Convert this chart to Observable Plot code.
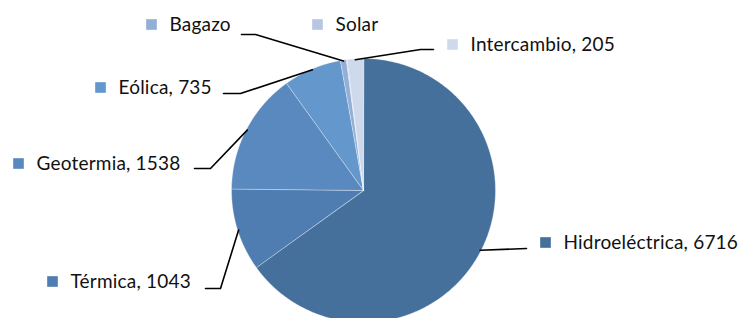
<!DOCTYPE html>
<html>
<head>
<meta charset="utf-8">
<script src="https://cdn.jsdelivr.net/npm/d3@7"></script>
<script src="https://cdn.jsdelivr.net/npm/@observablehq/plot@0.6"></script>
<style>
  html, body { margin: 0; padding: 0; background: #fff; }
  #chart { width: 738px; height: 318px; overflow: hidden; }
  #chart text { letter-spacing: 0.2px; }
</style>
</head>
<body>
<div id="chart"></div>
<script>
// ---- data ----
const categories = ["Hidroeléctrica", "Térmica", "Geotermia", "Eólica", "Bagazo", "Solar", "Intercambio"];
const values = [6716, 1043, 1538, 735, 75, 10, 205];
const labelTexts = ["Hidroeléctrica, 6716", "Térmica, 1043", "Geotermia, 1538", "Eólica, 735", "Bagazo", "Solar", "Intercambio, 205"];
const colors = ["#44709b", "#4f7db1", "#5a89bf", "#6498cd", "#93afd6", "#b6c6e3", "#cfd9ec"];

// ---- layout (pixels) ----
const W = 738, H = 318;
const cx = 363, cy = 190, R = 132;
const labelPos = [[563, 242], [70, 281], [36, 163], [118, 87], [169, 24], [335, 24], [470, 44]];
const leaderBends = [
  [[526, 248]],
  [[220, 288], [205, 288]],
  [[210, 168], [194, 168]],
  [[240, 93], [223, 93]],
  [[255, 34], [241, 34]],
  null,
  [[420, 49], [433, 49]]
];

const total = d3.sum(values);
const pt = (a, r) => [cx + r * Math.sin(a), cy - r * Math.cos(a)];

// slice polygons
const slices = [];
let acc = 0;
const mids = [];
values.forEach((v, i) => {
  const a0 = acc / total * 2 * Math.PI;
  acc += v;
  const a1 = acc / total * 2 * Math.PI;
  mids.push((a0 + a1) / 2);
  slices.push({name: categories[i], x: cx, y: cy});
  const n = Math.max(2, Math.ceil((a1 - a0) / (Math.PI / 360)));
  for (let k = 0; k <= n; k++) {
    const [x, y] = pt(a0 + (a1 - a0) * k / n, R);
    slices.push({name: categories[i], x, y});
  }
});

// leader lines
const leaders = [];
leaderBends.forEach((b, i) => {
  if (!b) return;
  const [sx, sy] = pt(mids[i], 131);
  leaders.push({id: i, x: sx, y: sy});
  b.forEach(([x, y]) => leaders.push({id: i, x, y}));
});

const labels = categories.map((c, i) => ({name: c, text: labelTexts[i], x: labelPos[i][0], y: labelPos[i][1]}));

const chart = Plot.plot({
  width: W,
  height: H,
  margin: 0,
  x: {domain: [0, W], range: [0, W], axis: null},
  y: {domain: [0, H], range: [0, H], axis: null},
  color: {domain: categories, range: colors},
  style: {fontFamily: "Lato, 'Open Sans', sans-serif", background: "#fff"},
  marks: [
    Plot.line(slices, {x: "x", y: "y", z: "name", fill: "name", stroke: "#ffffff", strokeOpacity: 0.45, strokeWidth: 0.8, curve: "linear-closed"}),
    Plot.line(leaders, {x: "x", y: "y", z: "id", stroke: "#000", strokeWidth: 1.6}),
    Plot.dot(labels, {x: (d) => d.x - 18, y: "y", symbol: "square", r: 6, fill: "name", stroke: null}),
    Plot.text(labels, {x: "x", y: "y", text: "text", textAnchor: "start", lineAnchor: "middle", fontSize: 19, fill: "#111"})
  ]
});
document.getElementById("chart").appendChild(chart);
</script>
</body>
</html>
